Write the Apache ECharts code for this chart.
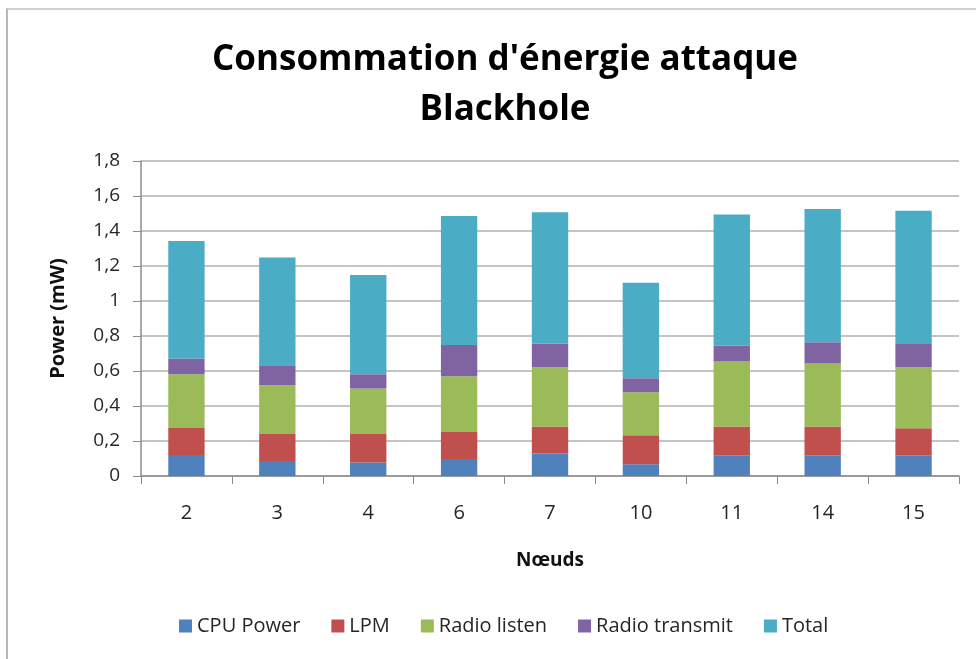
<!DOCTYPE html>
<html>
<head>
<meta charset="utf-8">
<script src="https://cdn.jsdelivr.net/npm/echarts@6/dist/echarts.min.js"></script>
<style>
  html, body { margin: 0; padding: 0; background: #fff; }
  .frame {
    position: absolute; left: 6px; top: 8px; width: 970px; height: 651px;
    border-left: 2px solid #b8b8b8; border-top: 2px solid #d0d0d0;
  }
  #chart { position: absolute; left: 0; top: 0; width: 976px; height: 659px; }
</style>
</head>
<body>
<div class="frame"></div>
<div id="chart"></div>
<script>
// noeuds
const categories = ["2", "3", "4", "6", "7", "10", "11", "14", "15"];
// valeurs (mW)
const cpuPower = [0.12, 0.086, 0.077, 0.097, 0.128, 0.067, 0.118, 0.118, 0.118];
const lpm = [0.155, 0.154, 0.163, 0.155, 0.155, 0.166, 0.165, 0.165, 0.155];
const radioListen = [0.307, 0.279, 0.26, 0.318, 0.339, 0.246, 0.371, 0.36, 0.349];
const radioTransmit = [0.09, 0.114, 0.082, 0.178, 0.135, 0.08, 0.092, 0.122, 0.133];
const total = [0.671, 0.616, 0.566, 0.738, 0.75, 0.545, 0.749, 0.761, 0.761];
const yTicks = [0, 0.2, 0.4, 0.6, 0.8, 1, 1.2, 1.4, 1.6, 1.8];

const font = "'Open Sans', 'Liberation Sans', sans-serif";

const chart = echarts.init(document.getElementById("chart"));

const mkSeries = (name, data, color) => ({
  name,
  type: "bar",
  stack: "power",
  data,
  barCategoryGap: "60%",
  itemStyle: { color },
});

chart.setOption({
  animation: false,
  textStyle: { fontFamily: font },
  title: {
    text: "Consommation d'énergie attaque\nBlackhole",
    left: 500,
    textAlign: "center",
    top: 30,
    textStyle: {
      fontFamily: font,
      fontSize: 35,
      fontWeight: "bold",
      color: "#000",
      lineHeight: 50,
    },
  },
  grid: { left: 141, right: 17, top: 161, bottom: 183 },
  legend: {
    bottom: 18,
    left: 174,
    itemWidth: 13,
    itemHeight: 13,
    itemGap: 31,
    icon: "rect",
    textStyle: { fontFamily: font, fontSize: 20, color: "#262626" },
    data: ["CPU Power", "LPM", "Radio listen", "Radio transmit", "Total"],
  },
  xAxis: {
    type: "category",
    data: categories,
    name: "Nœuds",
    nameLocation: "middle",
    nameGap: 75,
    nameTextStyle: { fontFamily: font, fontSize: 19, fontWeight: "bold", color: "#111" },
    axisLine: { lineStyle: { color: "#8c8c8c", width: 1.5 } },
    axisTick: { show: true, length: 8, lineStyle: { color: "#8c8c8c" } },
    axisLabel: { fontFamily: font, fontSize: 20, color: "#262626", margin: 27 },
  },
  yAxis: {
    type: "value",
    min: 0,
    max: 1.8,
    interval: 0.2,
    name: "Power (mW)",
    nameLocation: "middle",
    nameGap: 73,
    nameTextStyle: { fontFamily: font, fontSize: 20, fontWeight: "bold", color: "#111" },
    axisLine: { show: true, lineStyle: { color: "#8c8c8c", width: 1.5 } },
    axisTick: { show: true, length: 8, lineStyle: { color: "#8c8c8c" } },
    splitLine: { lineStyle: { color: "#b0b0b0", width: 1.5 } },
    axisLabel: {
      fontFamily: font,
      fontSize: 19,
      color: "#262626",
      margin: 21,
      formatter: (v) => {
        const t = yTicks.find((x) => Math.abs(x - v) < 1e-6);
        return String(t !== undefined ? t : v).replace(".", ",");
      },
    },
  },
  series: [
    mkSeries("CPU Power", cpuPower, "#4f81bd"),
    mkSeries("LPM", lpm, "#c0504d"),
    mkSeries("Radio listen", radioListen, "#9bbb59"),
    mkSeries("Radio transmit", radioTransmit, "#8064a2"),
    mkSeries("Total", total, "#4bacc6"),
  ],
});
</script>
</body>
</html>
